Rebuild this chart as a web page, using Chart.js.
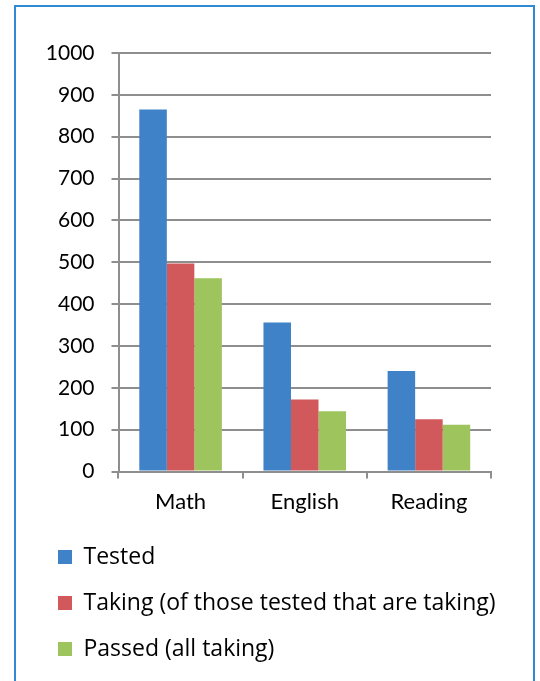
<!DOCTYPE html>
<html>
<head>
<meta charset="utf-8">
<script src="https://cdn.jsdelivr.net/npm/chart.js@4"></script>
<style>
  html, body { margin: 0; padding: 0; background: #fff; overflow: hidden; }
  #wrap { position: relative; width: 540px; height: 681px; }
  #frame { position: absolute; left: 14px; top: 5px; width: 521px; height: 700px; border: 2px solid #2F89D3; box-sizing: border-box; pointer-events: none; }
  canvas { position: absolute; left: 0; top: 0; }
</style>
</head>
<body>
<div id="wrap">
  <canvas id="c" width="540" height="681"></canvas>
  <div id="frame"></div>
</div>
<script>
const categories = ["Math", "English", "Reading"];
const tested = [865, 356, 240];
const taking = [497, 172, 125];
const passed = [462, 144, 112];
const seriesNames = ["Tested", "Taking (of those tested that are taking)", "Passed (all taking)"];
const yTicks = [0, 100, 200, 300, 400, 500, 600, 700, 800, 900, 1000];

const FONT = "Lato, 'Open Sans', sans-serif";
const LEGEND_FONT = "'Open Sans', Lato, sans-serif";
const gridGray = '#8E8E8E';

new Chart(document.getElementById('c'), {
  type: 'bar',
  data: {
    labels: categories,
    datasets: [
      { label: seriesNames[0], data: tested, backgroundColor: '#3F82C7' },
      { label: seriesNames[1], data: taking, backgroundColor: '#D1595B' },
      { label: seriesNames[2], data: passed, backgroundColor: '#9DC45D' }
    ]
  },
  options: {
    responsive: false,
    animation: false,
    events: [],
    layout: { padding: { left: 35, right: 10, top: 53, bottom: 10.5 } },
    datasets: { bar: { categoryPercentage: 0.665, barPercentage: 1.0, borderWidth: 0 } },
    plugins: {
      tooltip: { enabled: false },
      title: { display: false },
      legend: {
        position: 'bottom',
        align: 'start',
        labels: {
          boxWidth: 14,
          boxHeight: 14,
          padding: 23,
          color: '#000',
          font: { family: LEGEND_FONT, size: 23 }
        }
      }
    },
    scales: {
      x: {
        grid: { display: true, drawOnChartArea: false, drawTicks: true, tickLength: 7, color: gridGray, lineWidth: 2 },
        border: { display: true, color: gridGray, width: 2 },
        ticks: { color: '#000', font: { family: FONT, size: 22 }, padding: 10 },
        afterFit: (s) => { s.height = 51; }
      },
      y: {
        min: 0,
        max: 1000,
        afterBuildTicks: (s) => { s.ticks = yTicks.map(v => ({ value: v })); },
        grid: { color: gridGray, lineWidth: 2, tickLength: 7, drawTicks: true },
        border: { display: true, color: gridGray, width: 2 },
        ticks: { color: '#000', font: { family: FONT, size: 21 }, padding: 17, callback: (v) => String(v) },
        afterFit: (s) => { s.width = 83.5; }
      },
      spacer: {
        type: 'linear',
        position: 'right',
        display: true,
        grid: { display: false, drawOnChartArea: false },
        border: { display: false },
        ticks: { display: false },
        afterFit: (s) => { s.width = 39; }
      }
    }
  }
});
</script>
</body>
</html>
